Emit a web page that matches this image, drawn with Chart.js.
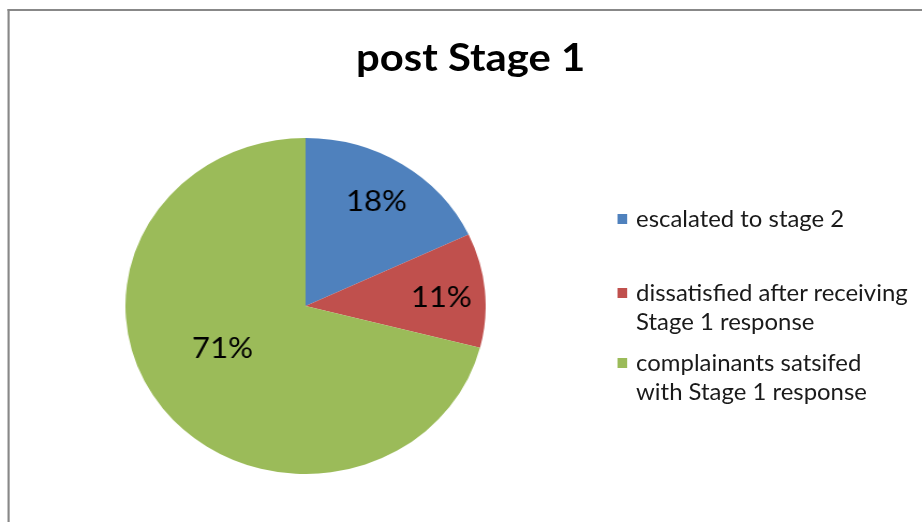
<!DOCTYPE html>
<html>
<head>
<meta charset="utf-8">
<script src="https://cdn.jsdelivr.net/npm/chart.js@4.4.1/dist/chart.umd.min.js"></script>
<style>
  html, body { margin: 0; padding: 0; background: #fff; overflow: hidden; }
  #stage {
    position: absolute; left: 0; top: 0; width: 860px; height: 522px;
    transform: scaleX(1.0721); transform-origin: 0 0;
    font-family: Lato, "Open Sans", sans-serif;
  }
  #frame {
    position: absolute; left: 6.5px; top: 9px; width: 900px; height: 600px;
    border-left: 2px solid #888; border-top: 2px solid #888;
  }
  #title {
    position: absolute; left: 0; width: 878px; top: 33px; text-align: center;
    font-weight: bold; font-size: 39px; line-height: 46px; color: #000;
  }
  #pieBox { position: absolute; left: 116.5px; top: 138px; width: 336px; height: 336px; }
  .leg { position: absolute; left: 575.5px; font-size: 22.3px; line-height: 29px; color: #1a1a1a; }
  .leg .sw { position: absolute; left: 0; top: 9.5px; width: 9.5px; height: 10px; }
  .leg .tx { position: absolute; left: 17.8px; top: -1px; white-space: nowrap; }
</style>
</head>
<body>
<div id="stage">
  <div id="frame"></div>
  <div id="title"></div>
  <div id="pieBox"><canvas id="c" width="336" height="336"></canvas></div>
  <div id="legend"></div>
</div>
<script>
// ---- data ----
const chartTitle = "post Stage 1";
const categories = [
  ["escalated to stage 2"],
  ["dissatisfied after receiving", "Stage 1 response"],
  ["complainants satsifed", "with Stage 1 response"]
];
const values = [18, 11, 71];

// ---- style ----
const colors = ["#4F81BD", "#C0504D", "#9BBB59"];
const legendTops = [204.5, 278.5, 348.5];
const labelRadiusFrac = [0.734, 0.755, 0.525];
const labelAngleOffsetDeg = [0, 1.8, 9.2];

document.getElementById("title").textContent = chartTitle;

const legendEl = document.getElementById("legend");
categories.forEach((lines, i) => {
  const item = document.createElement("div");
  item.className = "leg";
  item.style.top = legendTops[i] + "px";
  const sw = document.createElement("div");
  sw.className = "sw";
  sw.style.background = colors[i];
  const tx = document.createElement("div");
  tx.className = "tx";
  lines.forEach((ln, k) => {
    if (k) tx.appendChild(document.createElement("br"));
    tx.appendChild(document.createTextNode(ln));
  });
  item.appendChild(sw);
  item.appendChild(tx);
  legendEl.appendChild(item);
});

const pctLabels = {
  id: "pctLabels",
  afterDatasetsDraw(chart) {
    const ctx = chart.ctx;
    const meta = chart.getDatasetMeta(0);
    const data = chart.data.datasets[0].data;
    const total = data.reduce((a, b) => a + b, 0);
    ctx.save();
    ctx.font = "29px Lato, 'Open Sans', sans-serif";
    ctx.fillStyle = "#000";
    ctx.textAlign = "center";
    ctx.textBaseline = "middle";
    meta.data.forEach((arc, i) => {
      const p = arc.getProps(["x", "y", "startAngle", "endAngle", "outerRadius"], true);
      const mid = (p.startAngle + p.endAngle) / 2 + labelAngleOffsetDeg[i] * Math.PI / 180;
      const r = p.outerRadius * labelRadiusFrac[i];
      const txt = Math.round(data[i] / total * 100) + "%";
      ctx.fillText(txt, p.x + Math.cos(mid) * r, p.y + Math.sin(mid) * r);
    });
    ctx.restore();
  }
};

new Chart(document.getElementById("c"), {
  type: "pie",
  data: {
    labels: categories,
    datasets: [{ data: values, backgroundColor: colors, borderWidth: 0 }]
  },
  options: {
    responsive: false,
    animation: false,
    layout: { padding: 0 },
    plugins: { legend: { display: false }, title: { display: false }, tooltip: { enabled: false } }
  },
  plugins: [pctLabels]
});
</script>
</body>
</html>
